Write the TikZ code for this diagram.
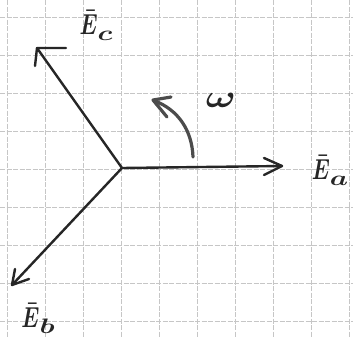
\documentclass[tikz,border=0pt]{standalone}
\newcommand{\phlbl}[1]{\scalebox{2.1}[2.9]{\boldmath$\bar{E}$}\raisebox{-6bp}{\scalebox{2.9}[2.1]{\boldmath$#1$}}}
\begin{document}
\begin{tikzpicture}[x=1bp,y=-1bp,
  gridline/.style={draw=gray!45,line width=0.7bp,dash pattern=on 5bp off 1.5bp},
  vec/.style={draw=black!85,line width=2.4bp,line cap=round,line join=round},
  rot/.style={draw=black!70,line width=3.2bp,line cap=round,line join=round},
  lbl/.style={text=black!85,inner sep=0pt}]
\useasboundingbox (0,0) rectangle (353,338);
\fill[white] (0,0) rectangle (353,338);
% grid
\foreach \gx in {7,45,83,121,159,197,235,273,311,349}
  \draw[gridline] (\gx,0) -- (\gx,338);
\foreach \gy in {17,55,93,131,169,207,245,283,321}
  \draw[gridline] (0,\gy) -- (353,\gy);
% phasors
\coordinate (O) at (122,168);
\coordinate (A) at (282,166);
\coordinate (C) at (37,48);
\coordinate (B) at (12,285);
\draw[vec] (O) -- (A);
\draw[vec] (O) -- (C);
\draw[vec] (O) -- (B);
% hand-drawn heads
\coordinate (A1) at (264,158);
\coordinate (A2) at (264,175);
\draw[vec] (A1) -- (A) -- (A2);
\coordinate (C1) at (66,48);
\coordinate (C2) at (35,66);
\draw[vec] (C1) -- (C) -- (C2);
\coordinate (B1) at (15,269);
\coordinate (B2) at (29,279);
\draw[vec] (B1) -- (B) -- (B2);
% rotation arrow
\coordinate (w0) at (193,157);
\coordinate (w1) at (155,101);
\draw[rot] (w0) .. controls (192,130) and (178,110) .. (w1);
\coordinate (w2) at (171,97);
\coordinate (w3) at (167,117);
\draw[rot] (w2) -- (153,100) -- (w3);
% labels
\node[lbl] (la) at (330,170) {\phlbl{a}};
\node[lbl] (lc) at (96,25) {\phlbl{c}};
\node[lbl] (lb) at (38,318) {\phlbl{b}};
\node[lbl] (lw) at (221,100) {\scalebox{4.0}[3.2]{\boldmath$\omega$}};
\end{tikzpicture}
\end{document}
